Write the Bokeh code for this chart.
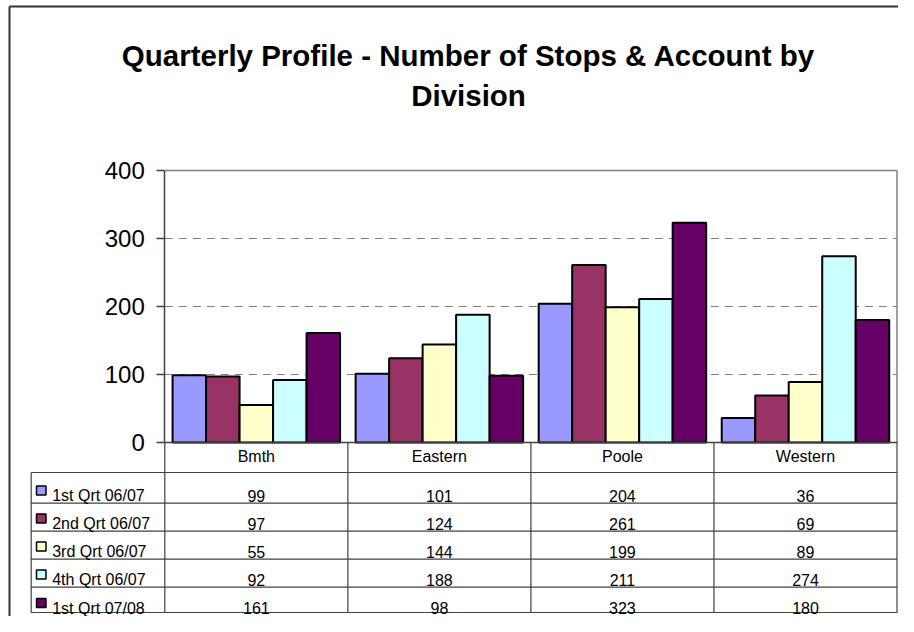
from bokeh.plotting import figure
from bokeh.models import Range1d, FixedTicker
from bokeh.core.properties import value
from bokeh.embed import file_html
from bokeh.resources import INLINE

# ---------------- data ----------------
divisions = ["Bmth", "Eastern", "Poole", "Western"]
quarters = ["1st Qrt 06/07", "2nd Qrt 06/07", "3rd Qrt 06/07", "4th Qrt 06/07", "1st Qrt 07/08"]
q1_0607 = [99, 101, 204, 36]
q2_0607 = [97, 124, 261, 69]
q3_0607 = [55, 144, 199, 89]
q4_0607 = [92, 188, 211, 274]
q1_0708 = [161, 98, 323, 180]
y_ticks = [0, 100, 200, 300, 400]
title_lines = ["Quarterly Profile - Number of Stops & Account by", "Division"]

series = [q1_0607, q2_0607, q3_0607, q4_0607, q1_0708]
colors = ["#9999FF", "#993366", "#FFFFCC", "#CCFFFF", "#660066"]

# ---------------- layout (canvas pixels) ----------------
W, H = 898, 616
PLOT_L, PLOT_R, PLOT_T, PLOT_B = 164.3, 896.5, 170.0, 442.0
Y_MAX = max(y_ticks)
ncat = len(divisions)
nser = len(series)
px_x = (PLOT_R - PLOT_L) / ncat
px_y = (PLOT_B - PLOT_T) / Y_MAX

TABLE_L = 30.7
ROW_LINES = [472.0, 502.7, 530.7, 558.7, 586.7, 612.0]
TEXT_BASE = [495.0, 523.0, 551.0, 579.0, 607.5]
FONT = value("Liberation Sans")
LINE_DARK = "#404040"
LINE_GRAY = "#808080"

p = figure(width=W, height=H,
           x_range=Range1d(-PLOT_L / px_x, (W - PLOT_L) / px_x),
           y_range=Range1d((PLOT_B - H) / px_y, PLOT_B / px_y),
           output_backend="svg", toolbar_location=None, min_border=0,
           background_fill_color="white", border_fill_color="white")
p.outline_line_color = None
p.xgrid.visible = False
p.ygrid.visible = False
p.extra_x_ranges = {"px": Range1d(0, W)}
p.extra_y_ranges = {"py": Range1d(H, 0)}

# outer chart border
p.segment(x0=[9, 9], y0=[6, 6], x1=[9, W], y1=[H, 6], line_color="#333333",
          line_width=2, x_range_name="px", y_range_name="py")

# title
p.text(x=[468, 468], y=[55, 95], text=title_lines, text_font=FONT, text_font_size="29.5px",
       text_font_style="bold", text_align="center", text_baseline="alphabetic",
       text_color="black", x_range_name="px", y_range_name="py")

# gridlines and plot frame
grid_vals = [t for t in y_ticks if 0 < t < Y_MAX]
p.segment(x0=0, x1=ncat, y0=grid_vals, y1=grid_vals, line_color=LINE_GRAY,
          line_dash="8 6", line_width=1)
p.segment(x0=[0, ncat], y0=[Y_MAX, 0], x1=[ncat, ncat], y1=[Y_MAX, Y_MAX],
          line_color=LINE_GRAY, line_width=1.5)

# bars
bar_w = 0.183
for i, (vals, col) in enumerate(zip(series, colors)):
    xs = [j + 0.5 + (i - (nser - 1) / 2) * bar_w for j in range(ncat)]
    p.vbar(x=xs, top=vals, bottom=0, width=bar_w, fill_color=col,
           line_color="black", line_width=2)

# axes
ya = p.yaxis[0]
ya.fixed_location = 0
ya.bounds = (0, Y_MAX)
ya.ticker = FixedTicker(ticks=y_ticks)
ya.major_tick_out = 8
ya.major_tick_in = 0
ya.minor_tick_out = 0
ya.minor_tick_in = 0
ya.axis_line_color = LINE_DARK
ya.axis_line_width = 1.5
ya.major_tick_line_color = LINE_DARK
ya.major_tick_line_width = 1.5
ya.major_label_text_font = "Liberation Sans"
ya.major_label_text_font_size = "24px"
ya.major_label_text_color = "black"
ya.major_label_standoff = 12

xa = p.xaxis[0]
xa.fixed_location = 0
xa.bounds = (0, ncat)
centers = [j + 0.5 for j in range(ncat)]
xa.ticker = FixedTicker(ticks=centers)
xa.major_label_overrides = {c: d for c, d in zip(centers, divisions)}
xa.major_tick_out = 0
xa.major_tick_in = 0
xa.minor_tick_out = 0
xa.minor_tick_in = 0
xa.axis_line_color = LINE_DARK
xa.axis_line_width = 1.5
xa.major_label_text_font = "Liberation Sans"
xa.major_label_text_font_size = "16px"
xa.major_label_text_color = "black"
xa.major_label_standoff = 5

# data table lines
p.segment(x0=list(range(ncat + 1)), x1=list(range(ncat + 1)), y0=PLOT_B, y1=ROW_LINES[-1],
          line_color=LINE_DARK, line_width=1.2, y_range_name="py")
p.segment(x0=TABLE_L, x1=PLOT_R, y0=ROW_LINES, y1=ROW_LINES, line_color=LINE_DARK,
          line_width=1.2, x_range_name="px", y_range_name="py")
p.segment(x0=[TABLE_L], x1=[TABLE_L], y0=[ROW_LINES[0]], y1=[ROW_LINES[-1]],
          line_color=LINE_DARK, line_width=1.2, x_range_name="px", y_range_name="py")

# legend keys and labels
p.quad(left=36, right=45.5, top=[b - 9.5 for b in TEXT_BASE], bottom=[b - 0.5 for b in TEXT_BASE],
       fill_color=colors, line_color="black", line_width=1.5,
       x_range_name="px", y_range_name="py")
p.text(x=51.7, y=TEXT_BASE, text=quarters, text_font=FONT, text_font_size="16px",
       text_align="left", text_baseline="alphabetic", text_color="black",
       x_range_name="px", y_range_name="py")

# table values
for i, vals in enumerate(series):
    p.text(x=centers, y=[TEXT_BASE[i]] * ncat, text=[str(v) for v in vals], text_font=FONT,
           text_font_size="16px", text_align="center", text_baseline="alphabetic",
           text_color="black", y_range_name="py")

open("out.html", "w").write(file_html(p, INLINE))
